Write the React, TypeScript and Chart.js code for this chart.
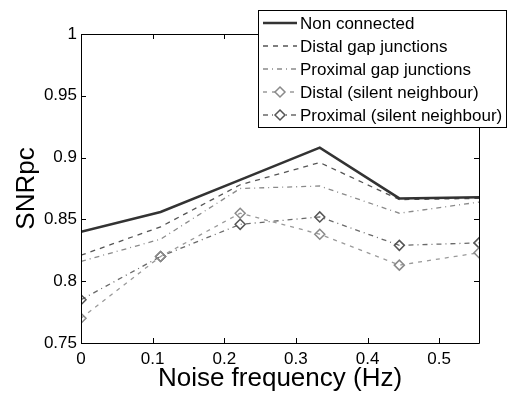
import React, { useEffect, useRef } from "react";
import Chart from "chart.js/auto";

const xValues = [0, 0.1111, 0.2222, 0.3333, 0.4444, 0.5556];
const nonConnected = [0.84, 0.856, 0.882, 0.908, 0.867, 0.868];
const distalGap = [0.821, 0.844, 0.878, 0.896, 0.866, 0.867];
const proximalGap = [0.816, 0.834, 0.875, 0.877, 0.855, 0.864];
const distalSilent = [0.77, 0.82, 0.855, 0.838, 0.813, 0.823];
const proximalSilent = [0.785, 0.82, 0.846, 0.852, 0.829, 0.831];

const seriesNames = [
  "Non connected",
  "Distal gap junctions",
  "Proximal gap junctions",
  "Distal (silent neighbour)",
  "Proximal (silent neighbour)",
];
const xTicks = [0, 0.1, 0.2, 0.3, 0.4, 0.5];
const xTickLabels = ["0", "0.1", "0.2", "0.3", "0.4", "0.5"];
const yTicks = [0.75, 0.8, 0.85, 0.9, 0.95, 1];
const yTickLabels = ["0.75", "0.8", "0.85", "0.9", "0.95", "1"];
const xTitle = "Noise frequency (Hz)";
const yTitle = "SNRpc";

const FONT = "'Liberation Sans', Arial, Helvetica, sans-serif";

const styles = [
  { color: "#333333", width: 2.5, dash: [] as number[], marker: false, markerColor: "" },
  { color: "#555555", width: 1.3, dash: [5, 5], marker: false, markerColor: "" },
  { color: "#8a8a8a", width: 1.3, dash: [5, 4, 1, 4], marker: false, markerColor: "" },
  { color: "#9a9a9a", width: 1.3, dash: [4, 5], marker: true, markerColor: "#8a8a8a" },
  { color: "#6a6a6a", width: 1.3, dash: [5, 4, 1, 4], marker: true, markerColor: "#555555" },
];

const seriesValues = [nonConnected, distalGap, proximalGap, distalSilent, proximalSilent];

const framePlugin = {
  id: "frame",
  afterDraw(chart: any) {
    const ctx = chart.ctx;
    const { left, right, top, bottom } = chart.chartArea;
    const xs = chart.scales.x;
    const ys = chart.scales.y;
    ctx.save();
    ctx.strokeStyle = "#000";
    ctx.lineWidth = 1;
    ctx.setLineDash([]);
    ctx.beginPath();
    ctx.rect(Math.round(left) + 0.5, Math.round(top) + 0.5, Math.round(right - left), Math.round(bottom - top));
    ctx.stroke();
    const tl = 5;
    ctx.beginPath();
    xTicks.forEach((v) => {
      const px = Math.round(xs.getPixelForValue(v)) + 0.5;
      ctx.moveTo(px, bottom);
      ctx.lineTo(px, bottom - tl);
      ctx.moveTo(px, top);
      ctx.lineTo(px, top + tl);
    });
    yTicks.forEach((v) => {
      const py = Math.round(ys.getPixelForValue(v)) + 0.5;
      ctx.moveTo(left, py);
      ctx.lineTo(left + tl, py);
      ctx.moveTo(right, py);
      ctx.lineTo(right - tl, py);
    });
    ctx.stroke();

    // legend
    const bx = 258.5, by = 10.5, bw = 248, bh = 117;
    ctx.fillStyle = "#fff";
    ctx.fillRect(bx, by, bw, bh);
    ctx.strokeStyle = "#000";
    ctx.strokeRect(bx, by, bw, bh);
    ctx.font = `17px ${FONT}`;
    ctx.textBaseline = "middle";
    ctx.textAlign = "left";
    seriesNames.forEach((name, i) => {
      const y = 23 + i * 23;
      const s = styles[i];
      ctx.strokeStyle = s.color;
      ctx.lineWidth = s.width;
      ctx.setLineDash(s.dash);
      ctx.beginPath();
      ctx.moveTo(263, y);
      ctx.lineTo(297, y);
      ctx.stroke();
      ctx.setLineDash([]);
      if (s.marker) {
        const cx = 280, r = 5;
        ctx.fillStyle = "#fff";
        ctx.strokeStyle = s.markerColor;
        ctx.lineWidth = 1.5;
        ctx.beginPath();
        ctx.moveTo(cx, y - r);
        ctx.lineTo(cx + r, y);
        ctx.lineTo(cx, y + r);
        ctx.lineTo(cx - r, y);
        ctx.closePath();
        ctx.fill();
        ctx.stroke();
      }
      ctx.fillStyle = "#000";
      ctx.fillText(name, 300, y + 1);
    });
    ctx.restore();
  },
};

export default function App() {
  const ref = useRef<HTMLCanvasElement | null>(null);
  useEffect(() => {
    if (!ref.current) return;
    const datasets = seriesValues.map((vals, i) => {
      const s = styles[i];
      return {
        label: seriesNames[i],
        data: vals.map((v, j) => ({ x: xValues[j], y: v })),
        borderColor: s.color,
        borderWidth: s.width,
        borderDash: s.dash,
        backgroundColor: "rgba(0,0,0,0)",
        pointStyle: "rectRot" as const,
        pointRadius: s.marker ? 5 : 0,
        pointBorderColor: s.markerColor || s.color,
        pointBorderWidth: 1.5,
        pointBackgroundColor: "rgba(255,255,255,0)",
        tension: 0,
        fill: false,
      };
    });
    const chart = new Chart(ref.current, {
      type: "line",
      data: { datasets },
      plugins: [framePlugin],
      options: {
        animation: false,
        responsive: false,
        layout: { padding: { left: 0, top: 34, right: 29, bottom: 0 } },
        plugins: { legend: { display: false }, tooltip: { enabled: false } },
        scales: {
          x: {
            type: "linear",
            min: 0,
            max: 0.5556,
            grid: { display: false, drawTicks: false },
            border: { display: false },
            afterBuildTicks: (scale: any) => {
              scale.ticks = xTicks.map((v) => ({ value: v }));
            },
            afterFit: (scale: any) => {
              scale.height = 53;
            },
            ticks: {
              padding: 6,
              color: "#000",
              font: { family: FONT, size: 17 },
              maxRotation: 0,
              callback: (_v: any, i: number) => xTickLabels[i],
            },
            title: {
              display: true,
              text: xTitle,
              color: "#000",
              font: { family: FONT, size: 26 },
              padding: { top: 0, bottom: 2 },
            },
          },
          y: {
            type: "linear",
            min: 0.75,
            max: 1,
            grid: { display: false, drawTicks: false },
            border: { display: false },
            afterBuildTicks: (scale: any) => {
              scale.ticks = yTicks.map((v) => ({ value: v }));
            },
            afterFit: (scale: any) => {
              scale.width = 81;
            },
            ticks: {
              padding: 4,
              color: "#000",
              font: { family: FONT, size: 17 },
              callback: (_v: any, i: number) => yTickLabels[i],
            },
            title: {
              display: true,
              text: yTitle,
              color: "#000",
              font: { family: FONT, size: 26 },
              padding: { top: 11, bottom: 0 },
            },
          },
        },
      },
    });
    return () => chart.destroy();
  }, []);
  return (
    <div style={{ position: "fixed", left: 0, top: 0, width: 508, height: 396, background: "#fff" }}>
      <canvas ref={ref} width={508} height={396} style={{ display: "block" }} />
    </div>
  );
}
